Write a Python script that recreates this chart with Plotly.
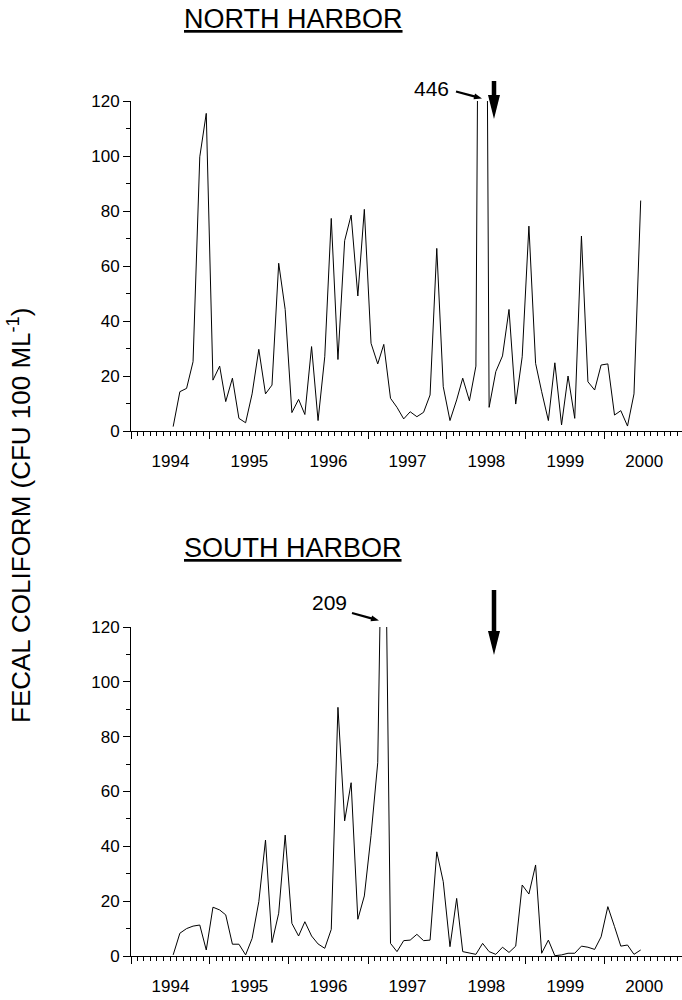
import plotly.graph_objects as go
import pandas as pd
import math

# ---------------- data ----------------
start_month = "1994-07-01"
n_months = 72
north_harbor = [1.6, 14.3, 15.5, 25.2, 99.7, 115.5, 18.5, 23.6, 10.7, 19.2, 4.6, 3.0,
                13.5, 29.7, 13.5, 16.7, 61.0, 44.2, 6.7, 11.5, 6.0, 30.7, 3.8, 27.0,
                77.3, 26.0, 69.2, 78.5, 49.1, 80.6, 31.9, 24.4, 31.5, 11.9, 8.6, 4.4,
                7.0, 5.2, 6.8, 13.1, 66.4, 16.1, 3.8, 11.3, 19.2, 11.0, 23.6, 446,
                8.6, 21.6, 27.3, 44.2, 9.8, 27.0, 74.5, 24.6, 14.3, 3.8, 24.8, 2.2,
                20.0, 4.6, 70.9, 17.9, 14.9, 24.0, 24.4, 5.8, 7.4, 1.8, 13.5, 83.8]
south_harbor = [0.4, 8.3, 10.0, 10.9, 11.3, 2.2, 17.8, 16.8, 15.0, 4.3, 4.3, 0.4,
                6.4, 19.8, 42.3, 4.9, 15.6, 44.1, 11.9, 7.3, 12.5, 7.3, 4.4, 2.8,
                9.7, 90.7, 49.3, 63.2, 13.4, 21.9, 44.0, 70.5, 209, 4.6, 1.6, 5.6,
                5.8, 7.9, 5.6, 5.8, 38.0, 27.1, 3.4, 21.0, 1.6, 1.0, 0.6, 4.6,
                1.6, 0.6, 3.2, 1.3, 3.6, 25.9, 22.6, 33.2, 1.0, 5.8, 0.1, 0.4,
                1.0, 1.0, 3.6, 3.2, 2.4, 7.0, 18.0, 10.7, 3.6, 4.0, 0.6, 2.2]
panel_titles = ["NORTH HARBOR", "SOUTH HARBOR"]
peak_labels = ["446", "209"]
y_ticks = [0, 20, 40, 60, 80, 100, 120]
y_title = "FECAL COLIFORM (CFU 100 ML<sup>-1</sup>)"

dates = pd.date_range(start_month, periods=n_months, freq="MS") + pd.Timedelta(days=14)

# ---------------- layout geometry (pixels) ----------------
W, H = 682, 1000
L, R = 131, 0
FONT = "Liberation Sans, Arial, sans-serif"


def px2paper(px, py):
    return (px - L) / (W - L - R), 1 - py / H


def arrow_path(x0, y0, x1, y1, shaft_w, head_len, head_w):
    """Filled arrow polygon from tail (x0,y0) to tip (x1,y1), in pixels -> paper."""
    dx, dy = x1 - x0, y1 - y0
    ln = math.hypot(dx, dy)
    ux, uy = dx / ln, dy / ln
    nx, ny = -uy, ux
    bx, by = x1 - ux * head_len, y1 - uy * head_len
    pts = [
        (x0 + nx * shaft_w / 2, y0 + ny * shaft_w / 2),
        (bx + nx * shaft_w / 2, by + ny * shaft_w / 2),
        (bx + nx * head_w / 2, by + ny * head_w / 2),
        (x1, y1),
        (bx - nx * head_w / 2, by - ny * head_w / 2),
        (bx - nx * shaft_w / 2, by - ny * shaft_w / 2),
        (x0 - nx * shaft_w / 2, y0 - ny * shaft_w / 2),
    ]
    pp = [px2paper(a, b) for a, b in pts]
    return "M " + " L ".join(f"{a:.5f},{b:.5f}" for a, b in pp) + " Z"


fig = go.Figure()
fig.add_trace(go.Scatter(x=dates, y=north_harbor, mode="lines",
                         line=dict(color="black", width=1), xaxis="x", yaxis="y",
                         showlegend=False))
fig.add_trace(go.Scatter(x=dates, y=south_harbor, mode="lines",
                         line=dict(color="black", width=1), xaxis="x2", yaxis="y2",
                         showlegend=False))

top_dom = [1 - 431 / H, 1 - 101 / H]
bot_dom = [1 - 956 / H, 1 - 627 / H]

xcommon = dict(
    type="date", range=["1994-01-01", "2000-12-23"],
    tick0="1994-01-01", dtick="M12", ticklabelmode="period", tickformat="%Y",
    ticks="outside", ticklen=7, tickwidth=1, tickcolor="black",
    showline=True, linecolor="black", linewidth=1, showgrid=False, zeroline=False,
    tickfont=dict(family=FONT, size=17, color="black"), ticklabelstandoff=8,
    minor=dict(dtick="M1", tick0="1994-01-01", ticks="outside", ticklen=4,
               tickwidth=1, tickcolor="black", showgrid=False),
    automargin=False, fixedrange=True,
)
ycommon = dict(
    range=[0, 120], tickvals=y_ticks, ticks="outside", ticklen=7, tickwidth=1,
    tickcolor="black", showline=True, linecolor="black", linewidth=1,
    showgrid=False, zeroline=False,
    tickfont=dict(family=FONT, size=17, color="black"),
    minor=dict(dtick=10, ticks="outside", ticklen=4, tickwidth=1,
               tickcolor="black", showgrid=False),
    automargin=False, fixedrange=True,
)

fig.update_layout(
    width=W, height=H, autosize=False,
    margin=dict(l=L, r=R, t=0, b=0, pad=0),
    paper_bgcolor="white", plot_bgcolor="white",
    xaxis=dict(domain=[0, 1], anchor="y", **xcommon),
    yaxis=dict(domain=top_dom, anchor="x", **ycommon),
    xaxis2=dict(domain=[0, 1], anchor="y2", **xcommon),
    yaxis2=dict(domain=bot_dom, anchor="x2", **ycommon),
    showlegend=False,
)

annos = []
# panel titles
for title, cy in zip(panel_titles, [19.5, 547.5]):
    x, y = px2paper(293, cy)
    annos.append(dict(text=f"<u>{title}</u>", x=x, y=y, xref="paper", yref="paper",
                      xanchor="center", yanchor="middle", showarrow=False,
                      font=dict(family=FONT, size=27, color="black")))
# peak value labels
for lab, (cx, cy) in zip(peak_labels, [(431, 89), (329, 602)]):
    x, y = px2paper(cx, cy)
    annos.append(dict(text=lab, x=x, y=y, xref="paper", yref="paper",
                      xanchor="center", yanchor="middle", showarrow=False,
                      font=dict(family=FONT, size=21, color="black")))
# y-axis title
x, y = px2paper(19, 516)
annos.append(dict(text=y_title, x=x, y=y, xref="paper", yref="paper",
                  xanchor="center", yanchor="middle", showarrow=False, textangle=-90,
                  font=dict(family=FONT, size=26, color="black")))
fig.update_layout(annotations=annos)

shapes = []
# small pointer arrows
for (x0, y0, x1, y1) in [(456, 91.5, 482, 98.5), (352, 613, 379, 620.5)]:
    shapes.append(dict(type="path", xref="paper", yref="paper",
                       path=arrow_path(x0, y0, x1, y1, 2.2, 8, 6),
                       fillcolor="black", line=dict(width=0)))
# big vertical arrows
for (y0, y1) in [(81, 119), (590, 655)]:
    shapes.append(dict(type="path", xref="paper", yref="paper",
                       path=arrow_path(494, y0, 494, y1, 4.5, 24, 12),
                       fillcolor="black", line=dict(width=0)))
fig.update_layout(shapes=shapes)

fig.write_html(
    "out.html",
    config={"responsive": False, "displayModeBar": False},
    post_script="document.body.style.margin='0';document.body.style.overflow='hidden';",
)
